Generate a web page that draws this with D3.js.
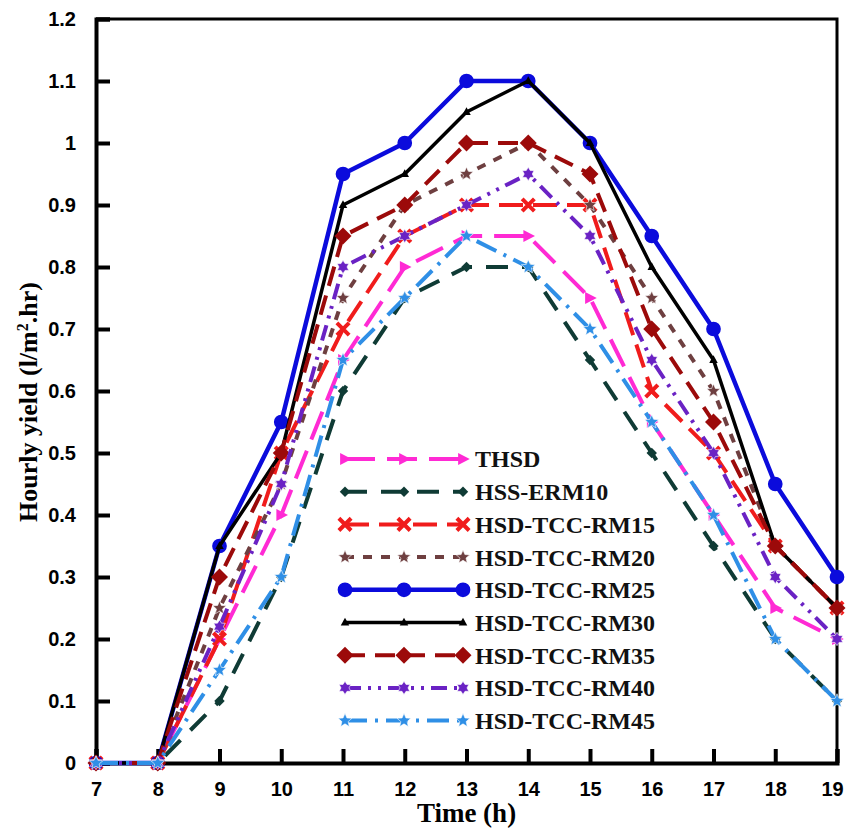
<!DOCTYPE html>
<html>
<head>
<meta charset="utf-8">
<script src="https://cdn.jsdelivr.net/npm/d3@7"></script>
<style>
  body { margin: 0; background: #fff; }
  svg { display: block; }
</style>
</head>
<body>
<div id="chart"></div>
<script>
// data
const hours = [7, 8, 9, 10, 11, 12, 13, 14, 15, 16, 17, 18, 19];
const yTicks = [0, 0.1, 0.2, 0.3, 0.4, 0.5, 0.6, 0.7, 0.8, 0.9, 1, 1.1, 1.2];

const thsd = [0, 0, 0.2, 0.4, 0.65, 0.8, 0.85, 0.85, 0.75, 0.55, 0.4, 0.25, 0.2];
const hssErm10 = [0, 0, 0.1, 0.3, 0.6, 0.75, 0.8, 0.8, 0.65, 0.5, 0.35, 0.2, 0.1];
const rm15 = [0, 0, 0.2, 0.5, 0.7, 0.85, 0.9, 0.9, 0.9, 0.6, 0.5, 0.35, 0.25];
const rm20 = [0, 0, 0.25, 0.45, 0.75, 0.9, 0.95, 1.0, 0.9, 0.75, 0.6, 0.35, 0.25];
const rm25 = [0, 0, 0.35, 0.55, 0.95, 1.0, 1.1, 1.1, 1.0, 0.85, 0.7, 0.45, 0.3];
const rm30 = [0, 0, 0.35, 0.5, 0.9, 0.95, 1.05, 1.1, 1.0, 0.8, 0.65, 0.35, 0.25];
const rm35 = [0, 0, 0.3, 0.5, 0.85, 0.9, 1.0, 1.0, 0.95, 0.7, 0.55, 0.35, 0.25];
const rm40 = [0, 0, 0.22, 0.45, 0.8, 0.85, 0.9, 0.95, 0.85, 0.65, 0.5, 0.3, 0.2];
const rm45 = [0, 0, 0.15, 0.3, 0.65, 0.75, 0.85, 0.8, 0.7, 0.55, 0.4, 0.2, 0.1];

const series = [
  { name: 'THSD', values: thsd, color: '#ff2ad4', dash: '30,12', width: 4, marker: 'triR', size: 150 },
  { name: 'HSS-ERM10', values: hssErm10, color: '#0f3b35', dash: '22,14', width: 4, marker: 'diamond', size: 90 },
  { name: 'HSD-TCC-RM15', values: rm15, color: '#f01c1c', dash: '24,10', width: 4, marker: 'cross', size: 150 },
  { name: 'HSD-TCC-RM20', values: rm20, color: '#6e3f40', dash: '9,9', width: 4, marker: 'star', size: 150 },
  { name: 'HSD-TCC-RM25', values: rm25, color: '#0b0bdc', dash: null, width: 4.5, marker: 'circle', size: 170 },
  { name: 'HSD-TCC-RM30', values: rm30, color: '#000000', dash: null, width: 3.5, marker: 'triangle', size: 60 },
  { name: 'HSD-TCC-RM35', values: rm35, color: '#9c0a0a', dash: '20,10', width: 4, marker: 'diamond', size: 240 },
  { name: 'HSD-TCC-RM40', values: rm40, color: '#6a22c4', dash: '16,7,3,7,3,7', width: 4, marker: 'hex', size: 160 },
  { name: 'HSD-TCC-RM45', values: rm45, color: '#2f8fe6', dash: '22,8,3,8', width: 4, marker: 'star', size: 160 }
];

const W = 846, H = 832;
const x0 = 96, x1 = 837, yTop = 19, yBot = 763;

const x = d3.scaleLinear().domain([7, 19]).range([x0, x1]);
const y = d3.scaleLinear().domain([0, 1.2]).range([yBot, yTop]);

const svg = d3.select('#chart').append('svg')
  .attr('width', W)
  .attr('height', H);

// marker path builders
function starPath(r, points, inner) {
  const pts = [];
  for (let i = 0; i < points * 2; i++) {
    const rr = i % 2 === 0 ? r : r * inner;
    const a = -Math.PI / 2 + i * Math.PI / points;
    pts.push([rr * Math.cos(a), rr * Math.sin(a)]);
  }
  return 'M' + pts.map(p => p.join(',')).join('L') + 'Z';
}

function markerPath(type, size) {
  const r = Math.sqrt(size) / 2;
  switch (type) {
    case 'triR':
      return `M${-r * 0.8},${-r}L${r * 1.1},0L${-r * 0.8},${r}Z`;
    case 'diamond':
      return `M0,${-r * 1.1}L${r * 1.1},0L0,${r * 1.1}L${-r * 1.1},0Z`;
    case 'circle':
      return d3.symbol(d3.symbolCircle, size)();
    case 'triangle':
      return `M0,${-r * 1.2}L${r * 1.1},${r * 0.8}L${-r * 1.1},${r * 0.8}Z`;
    case 'star':
      return starPath(r * 1.15, 5, 0.45);
    case 'hex':
      return starPath(r * 1.05, 6, 0.6);
    default:
      return '';
  }
}

function drawMarker(g, s, cx, cy) {
  if (s.marker === 'cross') {
    const r = Math.sqrt(s.size) / 2;
    g.append('path')
      .attr('d', `M${cx - r},${cy - r}L${cx + r},${cy + r}M${cx - r},${cy + r}L${cx + r},${cy - r}`)
      .attr('stroke', s.color)
      .attr('stroke-width', 4)
      .attr('fill', 'none');
  } else {
    g.append('path')
      .attr('d', markerPath(s.marker, s.size))
      .attr('transform', `translate(${cx},${cy})`)
      .attr('fill', s.color)
      .attr('stroke', s.marker === 'hex' || s.marker === 'star' ? '#ffffff' : 'none')
      .attr('stroke-width', 0.6);
  }
}

// frame: top and right
svg.append('path')
  .attr('d', `M${x0},${yTop}L${x1},${yTop}L${x1},${yBot}`)
  .attr('fill', 'none')
  .attr('stroke', '#000')
  .attr('stroke-width', 3);

// axes
const yAxis = d3.axisLeft(y)
  .tickValues(yTicks)
  .tickSize(-14)
  .tickPadding(20)
  .tickFormat(d3.format('~g'));

const xAxis = d3.axisBottom(x)
  .tickValues(hours)
  .tickSize(-14)
  .tickPadding(18);

const gy = svg.append('g')
  .attr('transform', `translate(${x0},0)`)
  .call(yAxis);

const gx = svg.append('g')
  .attr('transform', `translate(0,${yBot})`)
  .call(xAxis);

[gx, gy].forEach(g => {
  g.select('.domain').attr('stroke', '#000').attr('stroke-width', 4);
  g.selectAll('.tick line').attr('stroke', '#000').attr('stroke-width', 4);
  g.selectAll('.tick text')
    .attr('fill', '#000')
    .style('font-family', '"Liberation Sans", Arial, sans-serif')
    .style('font-weight', 'bold')
    .style('font-size', '20px');
});
gx.selectAll('.tick text').attr('dy', '0.75em');
// last label sits against the right edge, as in the original
gx.selectAll('.tick text').filter(d => d === 19).attr('x', -5);

// lines
const line = d3.line()
  .x((d, i) => x(hours[i]))
  .y(d => y(d));

const plot = svg.append('g');

series.forEach(s => {
  const g = plot.append('g');
  g.append('path')
    .datum(s.values)
    .attr('d', line)
    .attr('fill', 'none')
    .attr('stroke', s.color)
    .attr('stroke-width', s.width)
    .attr('stroke-dasharray', s.dash)
    .attr('stroke-linejoin', 'round');
  s.values.forEach((v, i) => drawMarker(g, s, x(hours[i]), y(v)));
});

// legend
const legend = svg.append('g');
const legX0 = 345, legX1 = 463, legY0 = 459, legStep = 32.7;

series.forEach((s, i) => {
  const ly = legY0 + i * legStep;
  const g = legend.append('g');
  g.append('line')
    .attr('x1', legX0).attr('x2', legX1)
    .attr('y1', ly).attr('y2', ly)
    .attr('stroke', s.color)
    .attr('stroke-width', s.width)
    .attr('stroke-dasharray', s.dash);
  [legX0, (legX0 + legX1) / 2, legX1].forEach(mx => drawMarker(g, s, mx, ly));
  g.append('text')
    .attr('x', 475)
    .attr('y', ly)
    .attr('dy', '0.35em')
    .text(s.name)
    .style('font-family', '"Liberation Serif", "Times New Roman", serif')
    .style('font-weight', 'bold')
    .style('font-size', '24px')
    .attr('fill', '#111');
});

// axis titles
svg.append('text')
  .attr('x', (x0 + x1) / 2)
  .attr('y', 822)
  .attr('text-anchor', 'middle')
  .style('font-family', '"Liberation Serif", "Times New Roman", serif')
  .style('font-weight', 'bold')
  .style('font-size', '27px')
  .text('Time (h)');

const yt = svg.append('text')
  .attr('transform', 'translate(37,402) rotate(-90)')
  .attr('text-anchor', 'middle')
  .style('font-family', '"Liberation Serif", "Times New Roman", serif')
  .style('font-weight', 'bold')
  .style('font-size', '26px');
yt.append('tspan').text('Hourly yield (l/m');
yt.append('tspan').attr('dy', -9).style('font-size', '16px').text('2');
yt.append('tspan').attr('dy', 9).text('.hr)');
</script>
</body>
</html>
